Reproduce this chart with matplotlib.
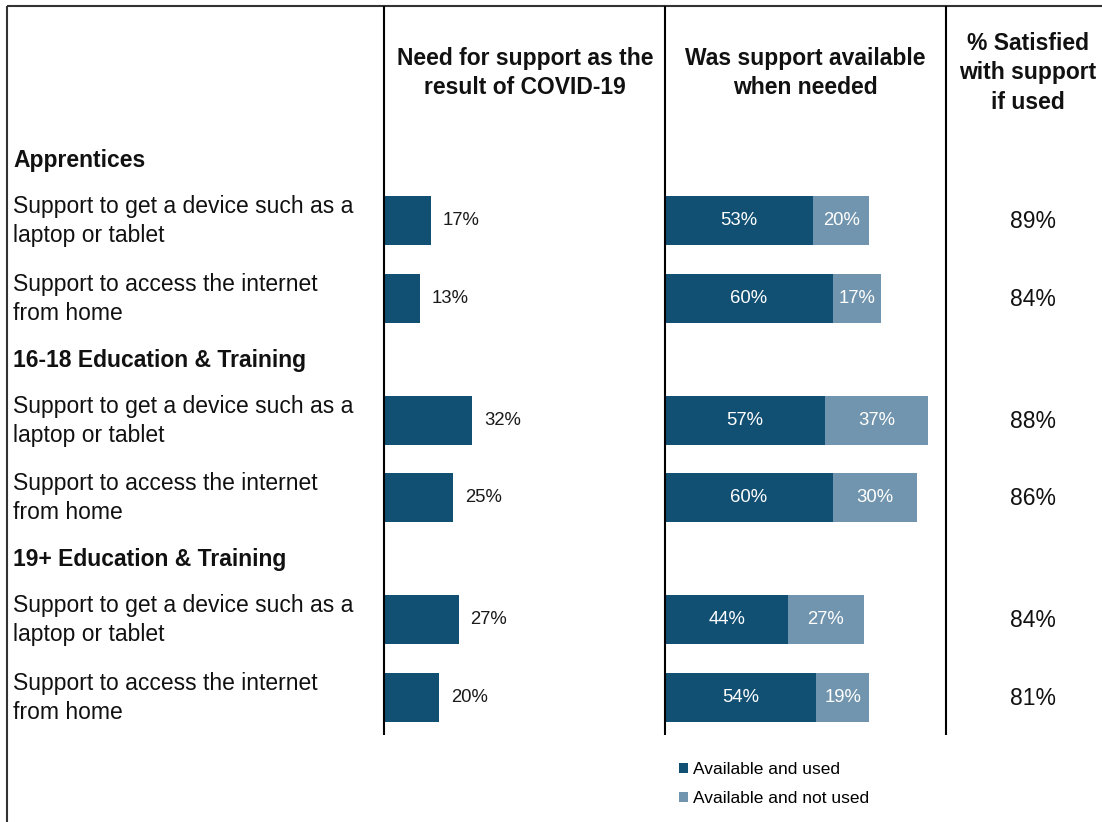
import matplotlib
matplotlib.use("Agg")
import matplotlib.pyplot as plt
from matplotlib.patches import Patch

plt.rcParams["font.family"] = ["Liberation Sans", "DejaVu Sans"]

# ---- data -------------------------------------------------------------
groups = ["Apprentices", "16-18 Education & Training", "19+ Education & Training"]
items = ["Support to get a device such as a\nlaptop or tablet",
         "Support to access the internet\nfrom home"]
need_pct = [17, 13, 32, 25, 27, 20]
avail_used = [53, 60, 57, 60, 44, 54]
avail_not_used = [20, 17, 37, 30, 27, 19]
satisfied = [89, 84, 88, 86, 84, 81]

col_titles = ["Need for support as the\nresult of COVID-19",
              "Was support available\nwhen needed",
              "% Satisfied\nwith support\nif used"]
legend_labels = ["Available and used", "Available and not used"]

DARK = "#114F73"
LIGHT = "#7195AE"

# ---- layout (pixel grid of the figure) --------------------------------
W, H = 1102, 822
fig = plt.figure(figsize=(W / 100, H / 100), dpi=100)

row_y = [220, 298, 420, 497, 619, 697]
group_y = [159, 359, 558]
col_x = [384, 665, 946]

base = fig.add_axes([0, 0, 1, 1])
base.set_xlim(0, W)
base.set_ylim(H, 0)
base.axis("off")
base.set_zorder(3)
base.patch.set_visible(False)


def bar_axes(x0, x1, px_per_pct):
    ax = fig.add_axes([x0 / W, 0, (x1 - x0) / W, 1])
    ax.set_xlim(0, (x1 - x0) / px_per_pct)
    ax.set_ylim(H, 0)
    ax.axis("off")
    return ax


ax_need = bar_axes(col_x[0], col_x[1], 2.76)
ax_avail = bar_axes(col_x[1], col_x[2], 2.8)

# need for support
ax_need.barh(row_y, need_pct, height=49, color=DARK)
for y, v in zip(row_y, need_pct):
    ax_need.annotate(f"{v}%", (v, y), xytext=(8.6, 0), textcoords="offset points",
                     ha="left", va="center", fontsize=13.3, color="#1a1a1a")

# availability (stacked)
ax_avail.barh(row_y, avail_used, height=49, color=DARK)
ax_avail.barh(row_y, avail_not_used, left=avail_used, height=49, color=LIGHT)
for y, a, b in zip(row_y, avail_used, avail_not_used):
    ax_avail.text(a / 2, y, f"{a}%", ha="center", va="center", fontsize=13.3, color="white")
    ax_avail.text(a + b / 2, y, f"{b}%", ha="center", va="center", fontsize=13.3, color="white")

# satisfied column
for y, v in zip(row_y, satisfied):
    base.text(1033, y + 1, f"{v}%", ha="center", va="center", fontsize=16.5, color="#111111")

# group headers and row labels
for gy, g in zip(group_y, groups):
    base.text(13, gy + 1, g, ha="left", va="center", fontsize=16.5, fontweight="bold", color="#111111")
for i, y in enumerate(row_y):
    base.text(13, y + 1, items[i % 2], ha="left", va="center", fontsize=16.5,
              linespacing=1.3, color="#111111")

# column titles
base.text(525, 73, col_titles[0], ha="center", va="center", fontsize=16.5,
          fontweight="bold", linespacing=1.36, color="#111111")
base.text(805, 73, col_titles[1], ha="center", va="center", fontsize=16.5,
          fontweight="bold", linespacing=1.36, color="#111111")
base.text(1028, 73, col_titles[2], ha="center", va="center", fontsize=16.5,
          fontweight="bold", linespacing=1.34, color="#111111")

# frame and column dividers
base.plot([7, 7], [6, H], color="#333333", lw=1.5, solid_capstyle="butt")
base.plot([7, W], [6, 6], color="#333333", lw=1.5, solid_capstyle="butt")
for x in col_x:
    base.plot([x, x], [6, 735], color="black", lw=1.5, solid_capstyle="butt")

# legend
handles = [Patch(facecolor=DARK, label=legend_labels[0]),
           Patch(facecolor=LIGHT, label=legend_labels[1])]
fig.legend(handles=handles, loc="upper left", bbox_to_anchor=(672 / W, 1 - 755 / H),
           frameon=False, fontsize=12.5, handlelength=0.5, handleheight=0.5,
           handletextpad=0.3, labelspacing=0.82, borderaxespad=0)

fig.savefig("out.png", dpi=100)
